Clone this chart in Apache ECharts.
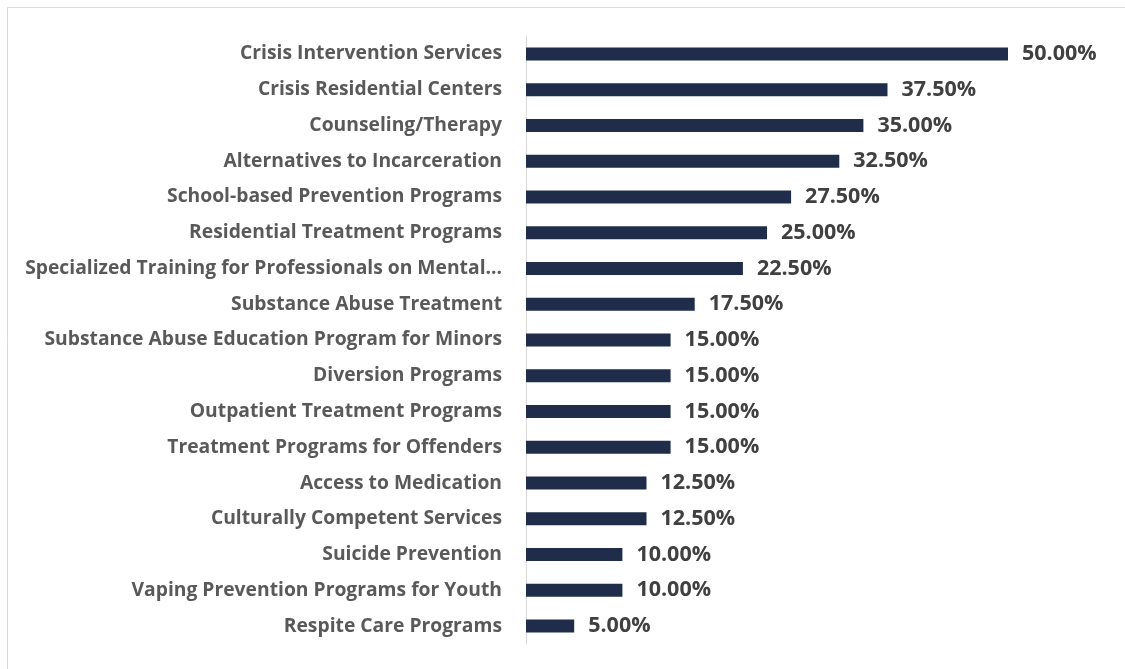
<!DOCTYPE html>
<html>
<head>
<meta charset="utf-8">
<script src="https://cdn.jsdelivr.net/npm/echarts@6/dist/echarts.min.js"></script>
<style>
  html, body { margin: 0; padding: 0; background: #fff; }
  #container { width: 1125px; height: 669px; }
</style>
</head>
<body>
<div id="container"></div>
<script>
// categories top to bottom, as shown
var categories = [
  'Crisis Intervention Services',
  'Crisis Residential Centers',
  'Counseling/Therapy',
  'Alternatives to Incarceration',
  'School-based Prevention Programs',
  'Residential Treatment Programs',
  'Specialized Training for Professionals on Mental…',
  'Substance Abuse Treatment',
  'Substance Abuse Education Program for Minors',
  'Diversion Programs',
  'Outpatient Treatment Programs',
  'Treatment Programs for Offenders',
  'Access to Medication',
  'Culturally Competent Services',
  'Suicide Prevention',
  'Vaping Prevention Programs for Youth',
  'Respite Care Programs'
];
var values = [50.0, 37.5, 35.0, 32.5, 27.5, 25.0, 22.5, 17.5, 15.0, 15.0, 15.0, 15.0, 12.5, 12.5, 10.0, 10.0, 5.0];

var app = (function() {
  var dom = document.getElementById('container');
  var myChart = echarts.init(dom);
  var font = '"Open Sans", sans-serif';

  myChart.setOption({
    backgroundColor: '#fff',
    animation: false,
    graphic: [{
      type: 'rect',
      shape: { x: 7.5, y: 7.5, width: 1300, height: 800 },
      style: { fill: 'none', stroke: '#d9d9d9', lineWidth: 1 },
      silent: true
    }],
    grid: {
      left: 526,
      top: 36,
      width: 482,
      height: 608
    },
    xAxis: {
      type: 'value',
      min: 0,
      max: 50,
      show: false
    },
    yAxis: {
      type: 'category',
      inverse: true,
      data: categories,
      axisLine: { show: true, lineStyle: { color: '#d9d9d9', width: 1 } },
      axisTick: { show: false },
      axisLabel: {
        margin: 24,
        padding: [4, 0, 0, 0],
        color: '#595959',
        fontFamily: font,
        fontWeight: 'bold',
        fontSize: 19.3
      }
    },
    series: [{
      type: 'bar',
      data: values,
      barWidth: 13,
      itemStyle: { color: '#1f2d4a' },
      label: {
        show: true,
        position: 'right',
        distance: 14,
        padding: [4, 0, 0, 0],
        color: '#404040',
        fontFamily: font,
        fontWeight: 'bold',
        fontSize: 21.5,
        formatter: function(p) { return p.value.toFixed(2) + '%'; }
      }
    }]
  });

  return { resize: function() { myChart.resize(); } };
})();
</script>
</body>
</html>
